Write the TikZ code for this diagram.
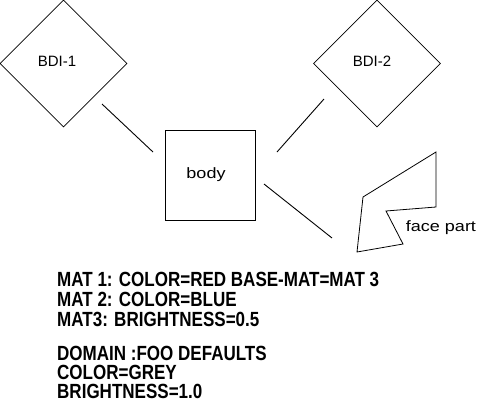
\documentclass[tikz,border=0pt]{standalone}
\usepackage{fontspec}
\usetikzlibrary{shapes.geometric}
\newfontfamily\lblfont{Liberation Sans}
\newfontfamily\lblwide[FakeStretch=1.2]{Liberation Sans}
\newfontfamily\boldnarrow[FakeStretch=0.83]{Liberation Sans Bold}
\tikzset{
  every node/.style={inner sep=0pt},
  dia/.style={draw, diamond, aspect=1, minimum size=127pt, line width=0.8pt},
  boxnode/.style={draw, rectangle, minimum size=90pt, line width=0.8pt},
  lbl/.style={font=\lblfont\fontsize{15}{18}\selectfont},
  wlbl/.style={font=\lblwide\fontsize{15}{18}\selectfont},
  conn/.style={line width=0.9pt},
  info/.style={anchor=base west, text height=14.5pt, text depth=0pt, font=\boldnarrow\fontsize{20.5}{22}\selectfont}
}
\begin{document}
\begin{tikzpicture}[x=1pt, y=-1pt]
\useasboundingbox (0,0) rectangle (477,402);
% diamonds
\node[dia] (bdi1) at (63.5,63.5) {};
\node[lbl] (bdi1t) at (57,61) {BDI-1};
\node[dia] (bdi2) at (377,63.5) {};
\node[lbl] (bdi2t) at (372,61) {BDI-2};
% body
\node[boxnode] (body) at (210,175) {};
\node[wlbl] (bodyt) at (206,175) {body};
% face part polygon
\draw[line width=0.8pt] (363,197) coordinate (f1) -- (436,152) coordinate (f2) -- (436,207) coordinate (f3)
  -- (386,211) coordinate (f4) -- (403,244) coordinate (f5) -- (357,252) coordinate (f6) -- cycle;
\node[wlbl] (facet) at (441,228) {face part};
% connectors
\coordinate (c1a) at (102,104);
\coordinate (c1b) at (153,152);
\coordinate (c2a) at (324,99);
\coordinate (c2b) at (277,152);
\coordinate (c3a) at (264,184);
\coordinate (c3b) at (332,238);
\draw[conn] (c1a) -- (c1b);
\draw[conn] (c2a) -- (c2b);
\draw[conn] (c3a) -- (c3b);
% text block
\node[info] (t1) at (57,286) {MAT 1: COLOR=RED BASE-MAT=MAT 3};
\node[info] (t2) at (57,306) {MAT 2: COLOR=BLUE};
\node[info] (t3) at (57,326) {MAT3: BRIGHTNESS=0.5};
\node[info] (t4) at (57,360) {DOMAIN :FOO DEFAULTS};
\node[info] (t5) at (57,379) {COLOR=GREY};
\node[info] (t6) at (57,398) {BRIGHTNESS=1.0};
\end{tikzpicture}
\end{document}
